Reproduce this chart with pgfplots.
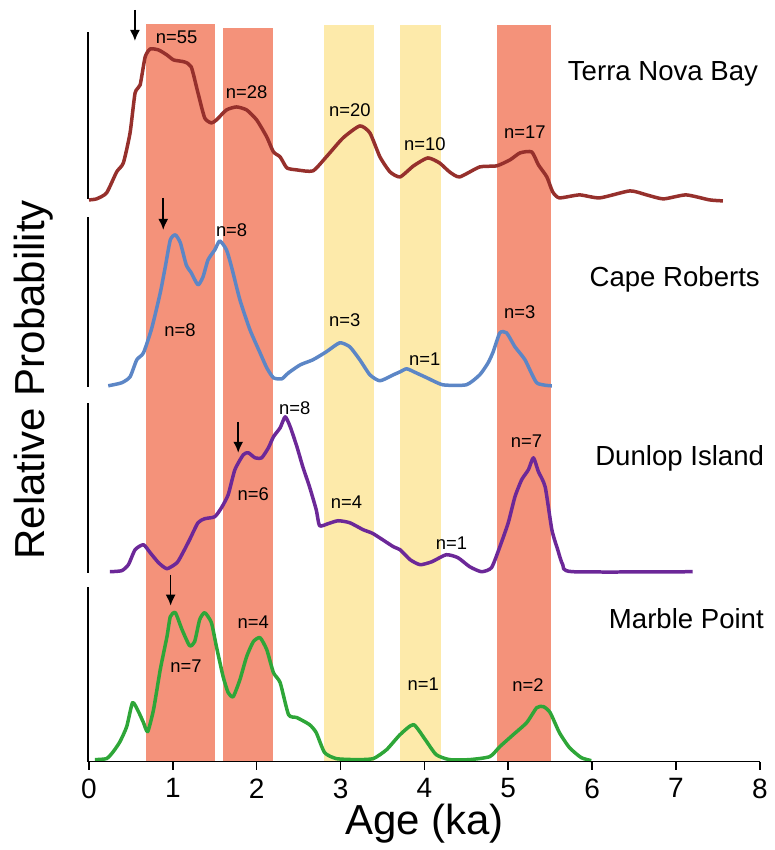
\documentclass[border=0pt]{standalone}
\usepackage{pgfplots}
\pgfplotsset{compat=1.18}
\usepackage{fontspec}
\setmainfont{Liberation Sans}
\usetikzlibrary{arrows.meta}
\definecolor{barred}{RGB}{244,146,122}
\definecolor{baryel}{RGB}{253,234,170}
\definecolor{tnb}{RGB}{150,48,44}
\definecolor{cr}{RGB}{92,134,198}
\definecolor{di}{RGB}{108,40,152}
\definecolor{mp}{RGB}{46,166,56}
\begin{document}
\begin{tikzpicture}
\begin{axis}[
  scale only axis,
  width=335.6pt, height=376pt,
  xmin=0, xmax=8, ymin=0, ymax=752,
  clip=false,
  axis on top,
  axis x line*=bottom,
  axis y line=none,
  x axis line style={-, line width=0.8pt},
  xtick={0,1,2,3,4,5,6,7,8},
  tick align=outside,
  major tick length=4pt,
  tick style={black, line width=0.8pt},
  /pgf/number format/assume math mode=true,
  xticklabel style={font=\fontsize{14}{16}\selectfont, yshift=-1pt},
  xlabel={Age (ka)},
  xlabel style={font=\fontsize{21}{24}\selectfont, yshift=4pt},
  every axis plot/.append style={line join=round},
  curve/.style={line width=1.75pt, smooth, tension=0.35},
]
% bounding box of the whole figure
\path (axis cs:-1.061,-88) rectangle (axis cs:8.117,762);
% shaded bands
\addplot[fill=barred, draw=none] coordinates {(0.68,0) (1.50,0) (1.50,738) (0.68,738)} -- cycle;
\addplot[fill=barred, draw=none] coordinates {(1.60,0) (2.20,0) (2.20,734) (1.60,734)} -- cycle;
\addplot[fill=baryel, draw=none] coordinates {(2.80,0) (3.40,0) (3.40,737) (2.80,737)} -- cycle;
\addplot[fill=baryel, draw=none] coordinates {(3.71,0) (4.20,0) (4.20,737) (3.71,737)} -- cycle;
\addplot[fill=barred, draw=none] coordinates {(4.86,0) (5.51,0) (5.51,737) (4.86,737)} -- cycle;
% left scale bars
\addplot[black, line width=1pt] coordinates {(-0.012,563) (-0.012,730)};
\addplot[black, line width=1pt] coordinates {(-0.012,375) (-0.012,545)};
\addplot[black, line width=1pt] coordinates {(-0.012,189) (-0.012,359)};
\addplot[black, line width=1pt] coordinates {(-0.012,0) (-0.012,175)};
% Terra Nova Bay
\addplot[tnb, curve] table {
0.00 562
0.09 563
0.21 569
0.33 590
0.41 599
0.49 629
0.55 669
0.61 677
0.67 705
0.73 713
0.83 712
0.93 707
1.01 702
1.14 700
1.22 695
1.30 669
1.38 644
1.46 639
1.52 642
1.64 652
1.76 655
1.88 652
2.00 642
2.12 625
2.20 610
2.28 605
2.36 594
2.48 592
2.67 591
2.83 605
3.03 624
3.23 636
3.35 629
3.47 605
3.59 590
3.71 585
3.87 596
4.04 604
4.18 599
4.30 590
4.42 585
4.66 595
4.86 596
5.02 602
5.14 609
5.28 610
5.36 597
5.46 585
5.53 570
5.61 564
5.85 567
6.09 564
6.45 571
6.65 567
6.85 563
7.12 567
7.40 562
7.56 561
};
% Cape Roberts
\addplot[cr, curve] table {
0.23 376
0.39 379
0.49 385
0.57 402
0.65 409
0.75 434
0.85 469
0.91 495
0.97 522
1.03 527
1.09 519
1.16 497
1.22 489
1.30 477
1.36 485
1.42 502
1.50 512
1.56 521
1.64 512
1.70 495
1.80 462
1.92 432
2.04 409
2.12 394
2.20 384
2.30 383
2.38 389
2.52 397
2.67 402
2.83 410
2.99 419
3.11 415
3.23 402
3.35 387
3.47 381
3.63 387
3.71 390
3.79 393
3.90 389
4.03 384
4.22 377
4.50 377
4.66 387
4.76 399
4.82 410
4.90 429
4.98 429
5.08 415
5.20 402
5.34 379
5.52 376
};
% Dunlop Island
\addplot[di, curve] table {
0.25 190
0.39 191
0.47 197
0.55 212
0.65 217
0.73 209
0.83 199
0.93 193
1.05 199
1.12 209
1.20 222
1.30 239
1.38 243
1.50 245
1.58 254
1.66 267
1.74 292
1.84 307
1.90 309
1.98 304
2.06 304
2.14 314
2.20 325
2.28 334
2.34 345
2.40 335
2.48 315
2.55 295
2.63 275
2.71 252
2.75 236
2.85 238
2.97 241
3.11 239
3.27 232
3.39 228
3.63 215
3.71 212
3.83 202
3.95 197
4.09 200
4.26 207
4.40 204
4.54 195
4.68 190
4.80 194
4.90 215
5.00 239
5.08 265
5.16 282
5.24 292
5.30 304
5.36 290
5.44 275
5.52 232
5.59 212
5.65 197
5.77 190
7.20 190
};
% Marble Point
\addplot[mp, curve] table {
0.07 2
0.21 3
0.29 10
0.37 20
0.45 35
0.52 59
0.59 50
0.65 39
0.70 30
0.77 52
0.85 92
0.93 125
0.97 145
1.03 149
1.11 132
1.20 116
1.26 120
1.32 142
1.38 149
1.46 139
1.52 115
1.60 85
1.66 69
1.72 65
1.80 82
1.88 105
1.96 120
2.04 124
2.12 112
2.20 89
2.28 79
2.38 47
2.48 44
2.63 37
2.71 29
2.81 9
2.95 3
3.19 2
3.39 3
3.55 12
3.71 27
3.87 37
4.01 22
4.14 7
4.30 2
4.54 2
4.78 5
4.90 15
5.06 27
5.22 39
5.34 54
5.42 55
5.50 49
5.61 29
5.73 14
5.87 4
5.99 1
};
% arrows
\draw[-{Latex[length=5.5pt,width=5pt]}, line width=0.8pt] (axis cs:0.548,752) -- (axis cs:0.548,721);
\draw[-{Latex[length=5.5pt,width=5pt]}, line width=0.8pt] (axis cs:0.886,564) -- (axis cs:0.886,532);
\draw[-{Latex[length=5.5pt,width=5pt]}, line width=0.8pt] (axis cs:1.780,340) -- (axis cs:1.780,309);
\draw[-{Latex[length=5.5pt,width=5pt]}, line width=0.8pt] (axis cs:0.974,187) -- (axis cs:0.974,156);
% n labels
\begin{scope}[every node/.style={font=\fontsize{9.2}{11}\selectfont, inner sep=0pt}]
\node at (axis cs:1.045,724.7) {n=55};
\node at (axis cs:1.880,669.3) {n=28};
\node at (axis cs:3.111,652) {n=20};
\node at (axis cs:4.005,618) {n=10};
\node at (axis cs:5.197,629.3) {n=17};
\node at (axis cs:1.701,532) {n=8};
\node at (axis cs:1.085,431.3) {n=8};
\node at (axis cs:3.051,442) {n=3};
\node at (axis cs:4.005,402.7) {n=1};
\node at (axis cs:5.137,449.3) {n=3};
\node at (axis cs:2.455,353.7) {n=8};
\node at (axis cs:1.958,268) {n=6};
\node at (axis cs:3.071,259.3) {n=4};
\node at (axis cs:4.323,218.7) {n=1};
\node at (axis cs:5.217,320.3) {n=7};
\node at (axis cs:1.156,95.3) {n=7};
\node at (axis cs:1.958,139.3) {n=4};
\node at (axis cs:3.985,77) {n=1};
\node at (axis cs:5.236,77) {n=2};
\end{scope}
% site labels
\begin{scope}[every node/.style={font=\fontsize{13.8}{16}\selectfont, inner sep=0pt}]
\node at (axis cs:6.845,688) {Terra Nova Bay};
\node at (axis cs:6.985,482.7) {Cape Roberts};
\node at (axis cs:7.044,303.7) {Dunlop Island};
\node at (axis cs:7.124,142.7) {Marble Point};
\end{scope}
\node[rotate=90, font=\fontsize{21}{24}\selectfont, inner sep=0pt] at (axis cs:-0.660,382) {Relative Probability};
\end{axis}
\end{tikzpicture}
\end{document}
